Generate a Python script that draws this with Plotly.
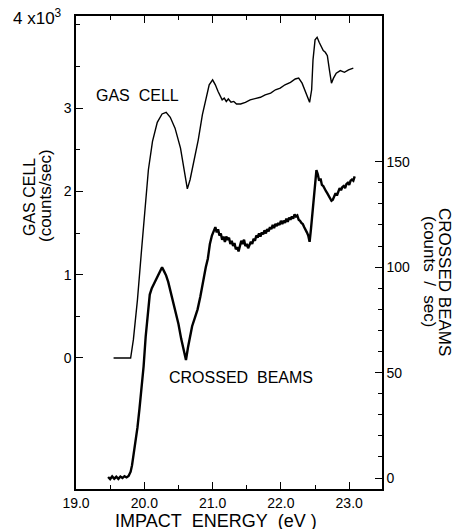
import plotly.graph_objects as go

# ---- data ----
gas_x = [19.55, 19.80, 19.84, 19.90, 19.96, 20.02, 20.06, 20.12, 20.19, 20.26, 20.32, 20.38, 20.45,
         20.53, 20.59, 20.63, 20.67, 20.73, 20.79, 20.85, 20.91, 20.95, 21.00, 21.04, 21.08, 21.11,
         21.14, 21.17, 21.20, 21.23, 21.27, 21.31, 21.35, 21.41, 21.48, 21.55, 21.62, 21.70, 21.77,
         21.85, 21.92, 21.99, 22.06, 22.14, 22.21, 22.26, 22.31, 22.37, 22.42, 22.45, 22.47, 22.50,
         22.53, 22.56, 22.59, 22.62, 22.65, 22.68, 22.71, 22.74, 22.77, 22.81, 22.87, 22.93, 22.99,
         23.06]
gas_y = [0.00, 0.00, 0.22, 0.70, 1.30, 1.90, 2.26, 2.60, 2.83, 2.93, 2.95, 2.89, 2.76,
         2.52, 2.22, 2.03, 2.14, 2.38, 2.62, 2.92, 3.16, 3.28, 3.34, 3.28, 3.20, 3.15,
         3.10, 3.12, 3.08, 3.11, 3.07, 3.08, 3.05, 3.05, 3.07, 3.10, 3.11, 3.13, 3.16,
         3.18, 3.22, 3.24, 3.28, 3.31, 3.35, 3.36, 3.30, 3.18, 3.07, 3.22, 3.58, 3.82,
         3.85, 3.79, 3.73, 3.69, 3.67, 3.63, 3.46, 3.30, 3.36, 3.42, 3.45, 3.43, 3.46,
         3.48]

cb_x = [19.47, 19.50, 19.53, 19.56, 19.59, 19.62, 19.65, 19.68, 19.71, 19.74, 19.77, 19.80, 19.82,
        19.85, 19.88, 19.90, 19.93, 19.96, 19.99, 20.02, 20.05, 20.08, 20.11, 20.14, 20.17, 20.20,
        20.23, 20.26, 20.29, 20.32, 20.35, 20.38, 20.42, 20.46, 20.50, 20.54, 20.58, 20.61, 20.64,
        20.67, 20.70, 20.74, 20.78, 20.82, 20.86, 20.90, 20.93, 20.96, 20.99, 21.02, 21.04, 21.06,
        21.08, 21.10, 21.12, 21.14, 21.16, 21.18, 21.20, 21.22, 21.24, 21.26, 21.28, 21.30, 21.32,
        21.34, 21.36, 21.38, 21.40, 21.42, 21.44, 21.46, 21.48, 21.50, 21.52, 21.54, 21.56, 21.58,
        21.60, 21.62, 21.64, 21.66, 21.68, 21.70, 21.72, 21.74, 21.76, 21.78, 21.80, 21.82, 21.84,
        21.86, 21.88, 21.90, 21.92, 21.94, 21.96, 21.98, 22.00, 22.02, 22.04, 22.06, 22.08, 22.10,
        22.12, 22.14, 22.16, 22.18, 22.20, 22.22, 22.24, 22.26, 22.28, 22.30, 22.32, 22.34, 22.36,
        22.38, 22.40, 22.42, 22.44, 22.46, 22.48, 22.50, 22.52, 22.54, 22.56, 22.58, 22.60, 22.62,
        22.64, 22.66, 22.68, 22.70, 22.72, 22.74, 22.76, 22.78, 22.80, 22.82, 22.84, 22.86, 22.88,
        22.90, 22.92, 22.94, 22.96, 22.98, 23.00, 23.02, 23.04, 23.06, 23.08]
cb_y = [0.5, -0.5, 0.8, -0.3, 0.6, -0.4, 0.7, 0.0, 0.9, 0.3, 1.0, 3.0, 6.0,
        12, 18, 24, 33, 42, 53, 67, 78, 87, 90, 92, 94, 96.5,
        98.5, 100, 98, 96, 93, 89, 85, 79, 73, 66, 60, 56, 62,
        67, 72, 76, 80, 86, 94, 100, 104, 111, 115, 118, 119, 116.5,
        118, 115, 116, 113, 114.5, 112, 114.5, 113, 114, 111, 112.5, 110, 111.5,
        108.5, 109.5, 107.5, 110.5, 112.5, 111, 113, 110, 111, 109, 110.5, 112, 111,
        113.5, 112.5, 115, 114, 116, 114.5, 116.5, 115.5, 117.5, 116, 118, 117, 119,
        118, 120, 118.5, 120.5, 119.5, 121, 120, 122, 120.5, 122, 121, 123, 121.5,
        123.5, 122.5, 124, 123, 125, 124, 124.5, 122.5, 122, 121, 120.5, 119, 118,
        116.5, 115, 112, 118, 126, 133, 141, 146, 144, 141, 142, 139, 138.5,
        137, 136, 135, 134, 133, 131.5, 132, 134, 135, 134, 136, 137.5, 136.5,
        138, 138.5, 137.5, 139.5, 140, 139, 141, 141.5, 141, 143]

x_major = [19.0, 20.0, 21.0, 22.0, 23.0]
x_labels = ["19.0", "20.0", "21.0", "22.0", "23.0"]
x_minor = [19.5, 20.5, 21.5, 22.5]
left_major = [0, 1, 2, 3]
left_labels = ["0", "1", "2", "3"]
left_minor = [0.5, 1.5, 2.5, 3.5, 4.0]
right_major = [0, 50, 100, 150]
right_labels = ["0", "50", "100", "150"]
right_minor = [10, 20, 30, 40, 60, 70, 80, 90, 110, 120, 130, 140]

FONT = "Liberation Sans, Arial, sans-serif"
W, H = 458, 529
ML, MR, MT, MB = 76, 76, 16, 40
SP = "\u00a0"

fig = go.Figure()
fig.add_trace(go.Scatter(x=gas_x, y=gas_y, mode="lines",
                         line=dict(color="black", width=1.4), yaxis="y", showlegend=False))
fig.add_trace(go.Scatter(x=cb_x, y=cb_y, mode="lines",
                         line=dict(color="black", width=2.4), yaxis="y2", showlegend=False))

axis_common = dict(showgrid=False, zeroline=False, showline=True, linecolor="black", linewidth=1.5,
                   ticks="inside", tickcolor="black", tickwidth=1.2,
                   tickfont=dict(family=FONT, size=14, color="black"))

fig.update_layout(
    width=W, height=H, margin=dict(l=ML, r=MR, t=MT, b=MB),
    paper_bgcolor="white", plot_bgcolor="white",
    xaxis=dict(range=[19.0, 23.48], tickvals=x_major, ticktext=x_labels, ticklen=7,
               mirror="ticks",
               minor=dict(tickvals=x_minor, ticks="inside", ticklen=4, tickcolor="black"),
               **axis_common),
    yaxis=dict(range=[-1.573, 4.106], tickvals=left_major, ticktext=left_labels, ticklen=7,
               minor=dict(tickvals=left_minor, ticks="inside", ticklen=4, tickcolor="black"),
               **axis_common),
    yaxis2=dict(range=[-5.2, 219.1], overlaying="y", side="right", tickvals=right_major,
                ticktext=right_labels, ticklen=7,
                minor=dict(tickvals=right_minor, ticks="inside", ticklen=4, tickcolor="black"),
                **axis_common),
)

def px_x(p):
    return (p - ML) / (W - ML - MR)

def px_y(p):
    return 1 - (p - MT) / (H - MT - MB)

def f(size):
    return dict(family=FONT, size=size, color="black")

anns = [
    dict(text="4 x10<sup>3</sup>", x=px_x(64), y=px_y(17), xanchor="right", font=f(17)),
    dict(text="GAS" + SP + "CELL", x=px_x(29), y=px_y(197), textangle=-90, font=f(16)),
    dict(text="(counts/sec)", x=px_x(45), y=px_y(196), textangle=-90, font=f(17)),
    dict(text="CROSSED" + SP + "BEAMS", x=px_x(445), y=px_y(282), textangle=90, font=f(17)),
    dict(text="(counts" + SP * 2 + "/" + SP * 2 + "sec)", x=px_x(430), y=px_y(271), textangle=90, font=f(17)),
    dict(text="GAS" + SP * 2 + "CELL", x=px_x(137), y=px_y(95), font=f(16)),
    dict(text="CROSSED" + SP * 2 + "BEAMS", x=px_x(241), y=px_y(377), font=f(16)),
    dict(text="IMPACT" + SP * 2 + "ENERGY" + SP * 2 + "(eV" + SP + ")", x=px_x(216), y=px_y(520),
         font=f(18), height=17),
]
for a in anns:
    a.update(xref="paper", yref="paper", showarrow=False)
    a.setdefault("xanchor", "center")
    a.setdefault("yanchor", "middle")
fig.update_layout(annotations=anns)

fig.write_html("out.html")
